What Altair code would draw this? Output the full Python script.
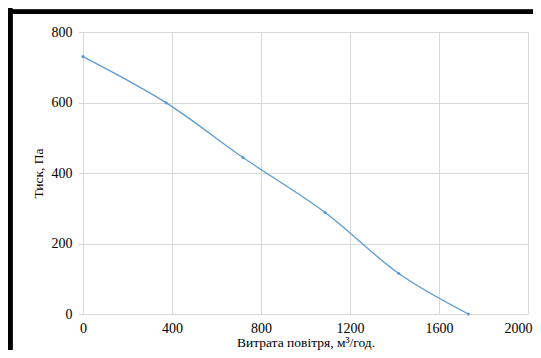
import altair as alt
import pandas as pd

flow = [0, 374, 719, 1088, 1419, 1732]
pressure = [730, 599, 444, 288, 115, 0]

df = pd.DataFrame({"flow": flow, "pressure": pressure})

FONT = "Liberation Serif"
GRID = "#d9d9d9"
BLUE = "#5B9BD5"

x = alt.X("flow:Q", scale=alt.Scale(domain=[0, 2000], nice=False),
          axis=alt.Axis(values=[0, 400, 800, 1200, 1600, 2000], format="d",
                        title="Витрата повітря, м³/год.", labelFlush=False,
                        labelOffset=alt.ExprRef(expr="datum.value == 2000 ? -10 : 0"),
                        grid=True, gridColor=GRID, domain=False, ticks=False,
                        labelPadding=7, titlePadding=0))
y = alt.Y("pressure:Q", scale=alt.Scale(domain=[0, 800], nice=False),
          axis=alt.Axis(values=[0, 200, 400, 600, 800], format="d", title="Тиск, Па",
                        grid=True, gridColor=GRID, domain=False, ticks=True, tickSize=5,
                        tickColor=GRID, labelPadding=6, titlePadding=6))

line = alt.Chart(df).mark_line(interpolate="catmull-rom", color=BLUE, strokeWidth=1.3).encode(x=x, y=y)
pts = alt.Chart(df).mark_point(filled=True, color=BLUE, size=10, opacity=1).encode(x="flow:Q", y="pressure:Q")

border_left = alt.Chart(df).mark_rule(color="black", strokeWidth=4).encode(
    x=alt.value(-72.7), y=alt.value(-23.5), y2=alt.value(330))
border_top = alt.Chart(df).mark_rule(color="black", strokeWidth=4).encode(
    x=alt.value(-74.7), x2=alt.value(480), y=alt.value(-20.3))

chart = alt.layer(line, pts, border_left, border_top).properties(
    width=445, height=282,
    autosize=alt.AutoSizeParams(type="none"),
    padding={"left": 75, "top": 24, "right": 5, "bottom": 36},
).configure_axis(
    labelFont=FONT, titleFont=FONT, labelFontSize=14, titleFontSize=13.5,
    labelColor="#000000", titleColor="#000000", titleFontWeight="normal",
).configure_view(stroke=None)

chart.save("out.html", embed_options={"renderer": "svg", "actions": False})
